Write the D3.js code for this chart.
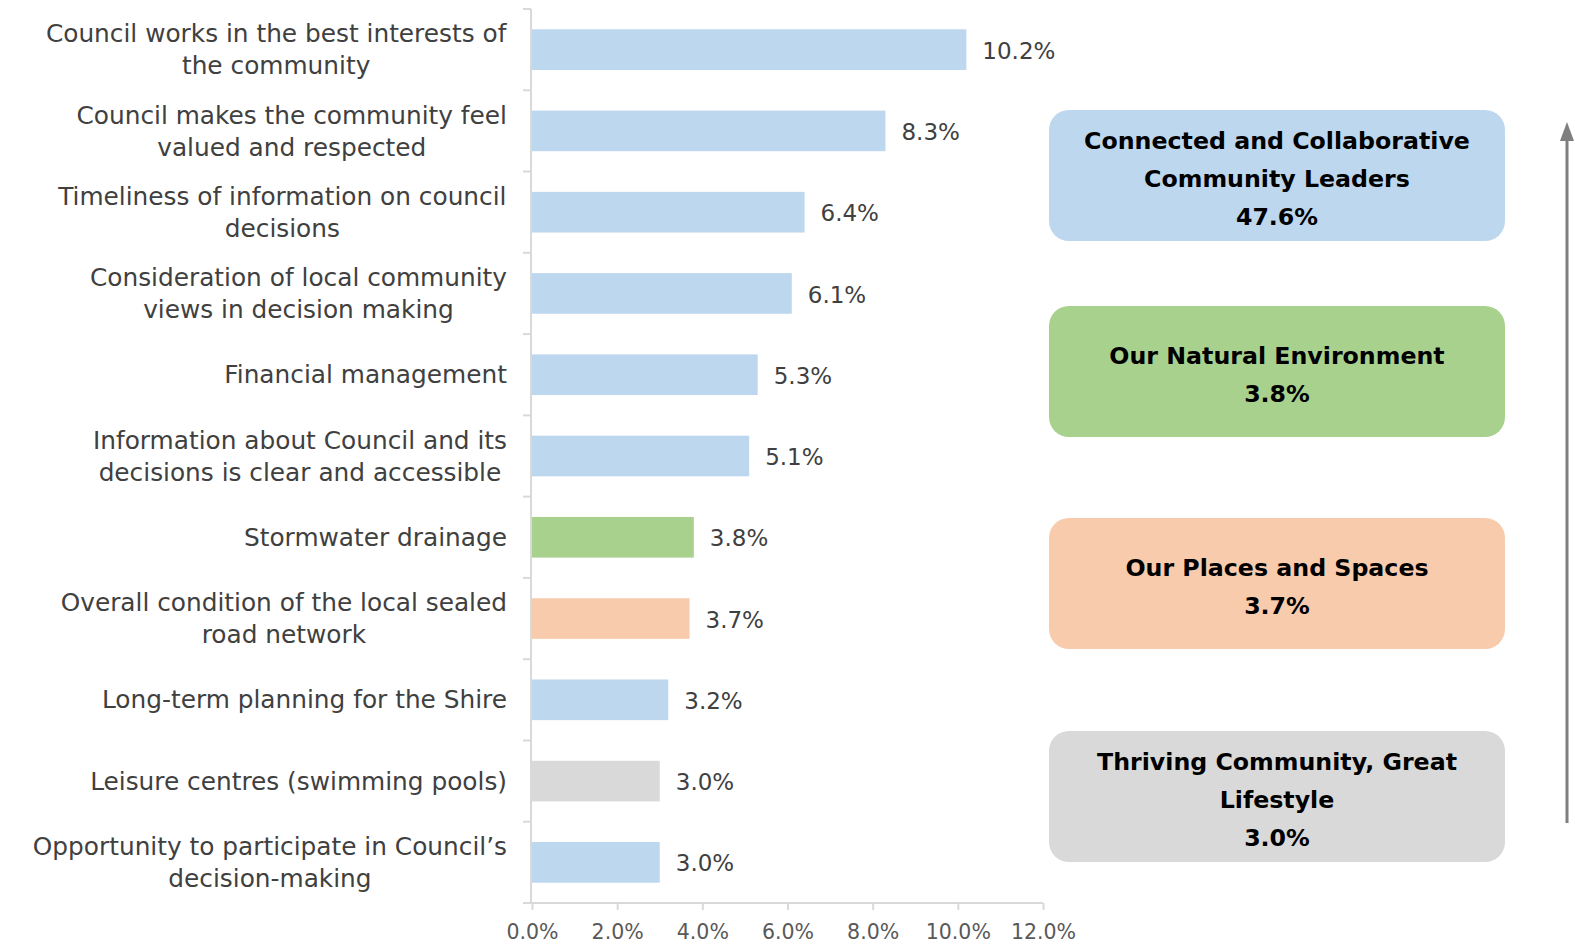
<!DOCTYPE html>
<html>
<head>
<meta charset="utf-8">
<script src="https://cdn.jsdelivr.net/npm/d3@7"></script>
<style>
  html, body { margin: 0; padding: 0; background: #ffffff; }
  svg { display: block; }
</style>
</head>
<body>
<svg id="chart" width="1575" height="944"></svg>
<script>
// Service attributes, ordered from the largest share to the smallest
const categories = [
  "Council works in the best interests of\nthe community",
  "Council makes the community feel\nvalued and respected",
  "Timeliness of information on council\ndecisions",
  "Consideration of local community\nviews in decision making",
  "Financial management",
  "Information about Council and its\ndecisions is clear and accessible",
  "Stormwater drainage",
  "Overall condition of the local sealed\nroad network",
  "Long-term planning for the Shire",
  "Leisure centres (swimming pools)",
  "Opportunity to participate in Council\u2019s\ndecision-making"
];
const values = [10.2, 8.3, 6.4, 6.1, 5.3, 5.1, 3.8, 3.7, 3.2, 3.0, 3.0];
const themeOfCategory = ["leaders", "leaders", "leaders", "leaders", "leaders", "leaders",
                         "natural", "places", "leaders", "thriving", "leaders"];

// Strategic themes with their combined shares
const themeKeys = ["leaders", "natural", "places", "thriving"];
const themeNames = [
  "Connected and Collaborative\nCommunity Leaders",
  "Our Natural Environment",
  "Our Places and Spaces",
  "Thriving Community, Great\nLifestyle"
];
const themeTotals = [47.6, 3.8, 3.7, 3.0];
const themeColors = ["#bdd7ee", "#a9d18e", "#f8cbad", "#d9d9d9"];

const xTicks = [0, 2, 4, 6, 8, 10, 12];

const FONT = "'DejaVu Sans', sans-serif";
const svg = d3.select("#chart");

const plotLeft = 532, plotRight = 1043, plotTop = 9, plotBottom = 903;

const x = d3.scaleLinear().domain([0, 12]).range([plotLeft, plotRight]);
const y = d3.scaleBand().domain(d3.range(categories.length))
  .range([plotTop, plotBottom]).paddingInner(0.5).paddingOuter(0.25);
const color = d3.scaleOrdinal().domain(themeKeys).range(themeColors);

// Bars
svg.append("g").selectAll("rect")
  .data(values)
  .join("rect")
  .attr("x", x(0))
  .attr("y", (d, i) => y(i))
  .attr("width", d => x(d) - x(0))
  .attr("height", y.bandwidth())
  .attr("fill", (d, i) => color(themeOfCategory[i]));

// Value labels
const fmt = d3.format(".1f");
svg.append("g").selectAll("text")
  .data(values)
  .join("text")
  .attr("x", d => x(d) + 16)
  .attr("y", (d, i) => y(i) + y.bandwidth() / 2 + 1)
  .attr("dy", "0.35em")
  .attr("font-family", FONT)
  .attr("font-size", 23)
  .attr("fill", "#404040")
  .text(d => fmt(d) + "%");

// Category axis: ticks at band boundaries
const yAxisG = svg.append("g");
yAxisG.append("line")
  .attr("x1", plotLeft - 1).attr("x2", plotLeft - 1)
  .attr("y1", plotTop).attr("y2", plotBottom)
  .attr("stroke", "#d9d9d9").attr("stroke-width", 2);
yAxisG.selectAll("line.tick")
  .data(d3.range(categories.length + 1))
  .join("line")
  .attr("class", "tick")
  .attr("x1", plotLeft - 9).attr("x2", plotLeft - 1)
  .attr("y1", i => plotTop + i * y.step())
  .attr("y2", i => plotTop + i * y.step())
  .attr("stroke", "#d9d9d9").attr("stroke-width", 2);

// Category labels (wrapped, block right-aligned, lines centred)
const labelRight = 507;
const catG = svg.append("g");
categories.forEach((c, i) => {
  const lines = c.split("\n");
  const cy = y(i) + y.bandwidth() / 2;
  const lh = 32;
  const t = catG.append("text")
    .attr("text-anchor", "middle")
    .attr("font-family", FONT)
    .attr("font-size", 24.8)
    .attr("fill", "#404040");
  lines.forEach((ln, k) => {
    t.append("tspan")
      .attr("x", 0)
      .attr("y", cy + (k - (lines.length - 1) / 2) * lh)
      .attr("dy", "0.35em")
      .text(ln);
  });
  const w = t.node().getBBox().width;
  t.selectAll("tspan").attr("x", labelRight - w / 2);
});

// Value axis
const xAxis = d3.axisBottom(x).tickValues(xTicks)
  .tickFormat(d => fmt(d) + "%").tickSize(7).tickSizeOuter(0);
const xAxisG = svg.append("g")
  .attr("transform", `translate(0,${plotBottom})`)
  .call(xAxis);
xAxisG.select(".domain").attr("stroke", "#d9d9d9").attr("stroke-width", 2)
  .attr("d", `M${plotLeft - 9},0H${plotRight}`);
xAxisG.selectAll(".tick line").attr("stroke", "#d9d9d9").attr("stroke-width", 2);
xAxisG.selectAll(".tick text")
  .attr("font-family", FONT).attr("font-size", 20.5)
  .attr("fill", "#595959").attr("dy", "1.25em");

// Theme summary boxes
const boxTops = [110, 306, 518, 731];
const boxG = svg.append("g");
themeKeys.forEach((k, i) => {
  const by = boxTops[i], bh = 131, bx = 1049, bw = 456;
  boxG.append("rect")
    .attr("x", bx).attr("y", by).attr("width", bw).attr("height", bh)
    .attr("rx", 20).attr("ry", 20)
    .attr("fill", color(k));
  const lines = themeNames[i].split("\n").concat([fmt(themeTotals[i]) + "%"]);
  const lh = 38;
  const t = boxG.append("text")
    .attr("text-anchor", "middle")
    .attr("font-family", FONT)
    .attr("font-weight", "bold")
    .attr("font-size", 23.7)
    .attr("fill", "#000000");
  lines.forEach((ln, j) => {
    t.append("tspan")
      .attr("x", bx + bw / 2)
      .attr("y", by + bh / 2 + 3 + (j - (lines.length - 1) / 2) * lh)
      .attr("dy", "0.35em")
      .text(ln);
  });
});

// Upward arrow on the right edge
const arrowX = 1567;
svg.append("line")
  .attr("x1", arrowX).attr("x2", arrowX)
  .attr("y1", 823).attr("y2", 138)
  .attr("stroke", "#7f7f7f").attr("stroke-width", 3);
svg.append("path")
  .attr("d", `M${arrowX},122 L${arrowX + 7},141 L${arrowX - 7},141 Z`)
  .attr("fill", "#7f7f7f");
</script>
</body>
</html>
